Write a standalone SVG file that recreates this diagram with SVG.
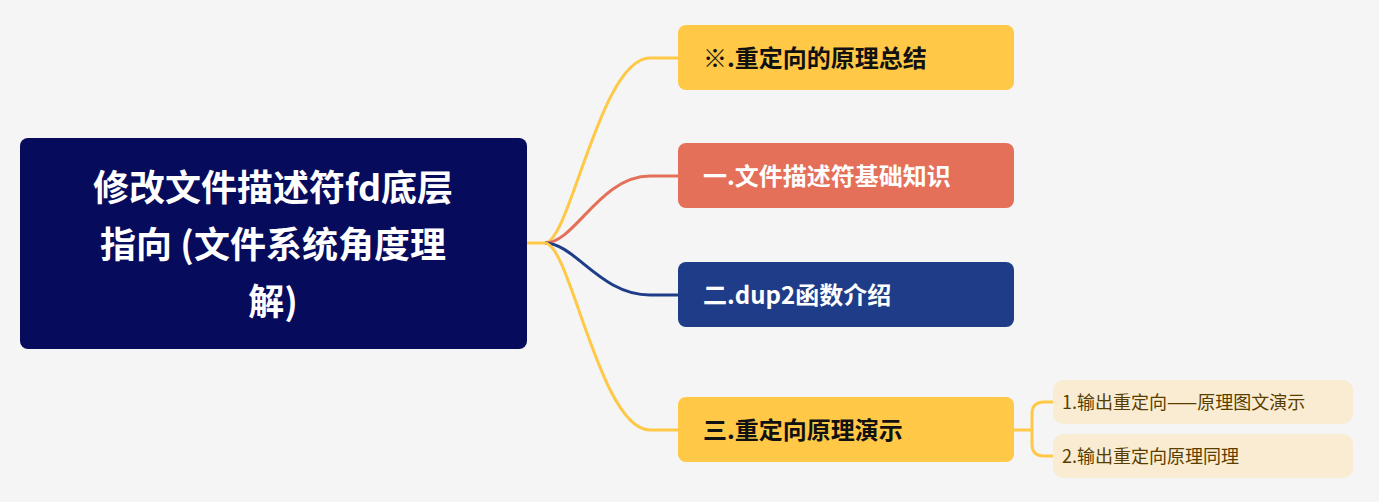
<svg xmlns="http://www.w3.org/2000/svg" width="1379" height="502" viewBox="0 0 1379 502">
<style>
.t{font-family:"Noto Sans CJK SC","Noto Sans",sans-serif;font-weight:bold}
.s{font-family:"Noto Sans CJK SC","Noto Sans",sans-serif;font-size:18px;fill:#5a3e00}
.c{fill:none;stroke-width:3}
</style>
<rect width="1379" height="502" fill="#f5f5f5"/>
<g id="connectors">
<path class="c" stroke="#ffc846" d="M527 243 H545 C570 243 600 58 650 58 H678"/>
<path class="c" stroke="#e4705a" d="M545 243 C575 243 600 176 650 176 H678"/>
<path class="c" stroke="#1f3c88" d="M545 243 C575 243 600 295 650 295 H678"/>
<path class="c" stroke="#ffc846" d="M545 243 C570 243 600 430 650 430 H678"/>
<path class="c" stroke="#ffc846" d="M1013 430 H1032 M1054 402 H1044 Q1032 402 1032 414 V444 Q1032 456 1044 456 H1054"/>
</g>
<g id="root"><rect x="20" y="138" width="507" height="211" rx="8" fill="#070b5b"/>
<text class="t" font-size="36" fill="#fff" text-anchor="middle"><tspan x="273" y="201">修改文件描述符fd底层</tspan><tspan x="273" y="258">指向 (文件系统角度理</tspan><tspan x="273" y="315">解)</tspan></text></g>
<g id="n0"><rect x="678" y="25" width="336" height="65" rx="8" fill="#ffc846"/><text class="t" x="703" y="67" font-size="24" fill="#111">※.重定向的原理总结</text></g>
<g id="n1"><rect x="678" y="143" width="336" height="65" rx="8" fill="#e4705a"/><text class="t" x="703" y="185" font-size="24" fill="#fff">一.文件描述符基础知识</text></g>
<g id="n2"><rect x="678" y="262" width="336" height="65" rx="8" fill="#1f3c88"/><text class="t" x="703" y="304" font-size="24" fill="#fff">二.dup2函数介绍</text></g>
<g id="n3"><rect x="678" y="397" width="336" height="65" rx="8" fill="#ffc846"/><text class="t" x="703" y="439" font-size="24" fill="#111">三.重定向原理演示</text></g>
<g id="n4"><rect x="1053" y="380" width="300" height="44" rx="10" fill="#f9ecd2"/><text class="s" x="1062" y="409">1.输出重定向——原理图文演示</text></g>
<g id="n5"><rect x="1053" y="434" width="300" height="44" rx="10" fill="#f9ecd2"/><text class="s" x="1062" y="463">2.输出重定向原理同理</text></g>
</svg>
